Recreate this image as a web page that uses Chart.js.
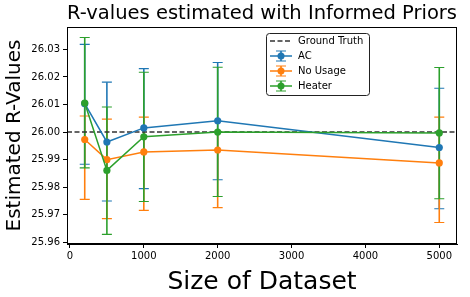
<!DOCTYPE html>
<html>
<head>
<meta charset="utf-8">
<script src="https://cdn.jsdelivr.net/npm/chart.js@4/dist/chart.umd.min.js"></script>
<style>
  html, body { margin: 0; padding: 0; background: #fff; }
  #wrap { width: 470px; height: 297px; }
</style>
</head>
<body>
<div id="wrap"><canvas id="grafico" width="470" height="297"></canvas></div>
<script>
// tamaños del dataset (eje x)
const sizes = [200, 500, 1000, 2000, 5000];
const groundTruth = 26.0;

// medias y limites de los intervalos
const acMean = [26.0103, 25.9964, 26.0015, 26.0041, 25.9944];
const acLow = [25.9883, 25.9750, 25.9795, 25.9827, 25.9722];
const acHigh = [26.0318, 26.0181, 26.0230, 26.0252, 26.0159];

const noUsageMean = [25.9973, 25.9900, 25.9928, 25.9935, 25.9888];
const noUsageLow = [25.9756, 25.9686, 25.9716, 25.9726, 25.9672];
const noUsageHigh = [26.0058, 26.0047, 26.0054, 26.0000, 26.0054];

const heaterMean = [26.0105, 25.9861, 25.9983, 26.0000, 25.9997];
const heaterLow = [25.9870, 25.9629, 25.9748, 25.9766, 25.9758];
const heaterHigh = [26.0343, 26.0091, 26.0217, 26.0235, 26.0234];

const xTicks = [0, 1000, 2000, 3000, 4000, 5000];
const yTicks = [25.96, 25.97, 25.98, 25.99, 26.00, 26.01, 26.02, 26.03];
const xMin = -40, xMax = 5240;
const yMin = 25.9594, yMax = 26.0381;

const series = [
  { label: "AC", mean: acMean, low: acLow, high: acHigh, color: "#1f77b4" },
  { label: "No Usage", mean: noUsageMean, low: noUsageLow, high: noUsageHigh, color: "#ff7f0e" },
  { label: "Heater", mean: heaterMean, low: heaterLow, high: heaterHigh, color: "#2ca02c" },
];

const FONT = "'DejaVu Sans', sans-serif";

// barras de error, debajo de las lineas
const errorBars = {
  id: "errorBars",
  beforeDatasetsDraw(chart) {
    const { ctx, chartArea, scales: { x, y } } = chart;
    ctx.save();
    ctx.beginPath();
    ctx.rect(chartArea.left, chartArea.top, chartArea.width, chartArea.height);
    ctx.clip();
    for (const s of series) {
      ctx.strokeStyle = s.color;
      for (let i = 0; i < sizes.length; i++) {
        const px = x.getPixelForValue(sizes[i]);
        const yl = y.getPixelForValue(s.low[i]);
        const yh = y.getPixelForValue(s.high[i]);
        ctx.lineWidth = 1.6;
        ctx.beginPath();
        ctx.moveTo(px, yl);
        ctx.lineTo(px, yh);
        ctx.stroke();
        ctx.lineWidth = 1.1;
        ctx.beginPath();
        ctx.moveTo(px - 5, yl);
        ctx.lineTo(px + 5, yl);
        ctx.moveTo(px - 5, yh);
        ctx.lineTo(px + 5, yh);
        ctx.stroke();
      }
    }
    ctx.restore();
  },
  afterDatasetsDraw(chart) {
    // marco completo (spines)
    const { ctx, chartArea: a } = chart;
    ctx.save();
    ctx.strokeStyle = "#000";
    ctx.lineWidth = 1;
    ctx.strokeRect(Math.round(a.left) + 0.5, Math.round(a.top) + 0.5,
      Math.round(a.width) - 1, Math.round(a.height) - 1);
    ctx.restore();
  },
  afterDraw(chart) {
    // leyenda dentro del area, como en matplotlib
    const { ctx } = chart;
    const bx = 266, by = 33, bw = 103, bh = 62;
    ctx.save();
    ctx.fillStyle = "rgba(255,255,255,0.8)";
    ctx.strokeStyle = "#222";
    ctx.lineWidth = 1;
    ctx.beginPath();
    ctx.roundRect(bx + 0.5, by + 0.5, bw, bh, 3);
    ctx.fill();
    ctx.stroke();

    ctx.font = "10px " + FONT;
    ctx.textBaseline = "middle";
    ctx.fillStyle = "#000";
    const hx0 = 270, hx1 = 292, tx = 298;
    let ry = 41;
    ctx.strokeStyle = "#333";
    ctx.lineWidth = 1.6;
    ctx.setLineDash([5, 2.5]);
    ctx.beginPath();
    ctx.moveTo(hx0, ry);
    ctx.lineTo(hx1, ry);
    ctx.stroke();
    ctx.setLineDash([]);
    ctx.fillText("Ground Truth", tx, ry);

    for (const s of series) {
      ry += 15;
      const cx = (hx0 + hx1) / 2;
      ctx.strokeStyle = s.color;
      ctx.lineWidth = 1.6;
      ctx.beginPath();
      ctx.moveTo(hx0, ry);
      ctx.lineTo(hx1, ry);
      ctx.moveTo(cx, ry - 5);
      ctx.lineTo(cx, ry + 5);
      ctx.stroke();
      ctx.lineWidth = 1.1;
      ctx.beginPath();
      ctx.moveTo(cx - 5, ry - 5);
      ctx.lineTo(cx + 5, ry - 5);
      ctx.moveTo(cx - 5, ry + 5);
      ctx.lineTo(cx + 5, ry + 5);
      ctx.stroke();
      ctx.fillStyle = s.color;
      ctx.beginPath();
      ctx.arc(cx, ry, 3.5, 0, Math.PI * 2);
      ctx.fill();
      ctx.fillStyle = "#000";
      ctx.fillText(s.label, tx, ry);
    }
    ctx.restore();
  },
};

const datasets = series.map((s, k) => ({
  label: s.label,
  data: sizes.map((v, i) => ({ x: v, y: s.mean[i] })),
  borderColor: s.color,
  backgroundColor: s.color,
  borderWidth: 1.5,
  pointRadius: 3.6,
  pointBorderWidth: 0,
  tension: 0,
  order: 3 - k,
}));

datasets.push({
  label: "Ground Truth",
  data: [{ x: xMin, y: groundTruth }, { x: xMax, y: groundTruth }],
  borderColor: "#333",
  borderWidth: 1.6,
  borderDash: [5, 2.5],
  pointRadius: 0,
  order: 4,
});

const ctx = document.getElementById("grafico").getContext("2d");
new Chart(ctx, {
  type: "line",
  data: { datasets },
  plugins: [errorBars],
  options: {
    responsive: false,
    animation: false,
    layout: { padding: { left: 0, right: 13, top: 0, bottom: 0 } },
    plugins: {
      legend: { display: false },
      tooltip: { enabled: false },
      title: {
        display: true,
        text: "R-values estimated with Informed Priors",
        fullSize: false,
        color: "#000",
        font: { family: FONT, size: 20, weight: "normal" },
        padding: { top: 2, bottom: 1 },
      },
    },
    scales: {
      x: {
        type: "linear",
        min: xMin,
        max: xMax,
        afterFit: (s) => { s.height = 53; },
        afterBuildTicks: (s) => { s.ticks = xTicks.map((v) => ({ value: v })); },
        grid: { display: true, drawOnChartArea: false, drawTicks: true, tickLength: 4, color: "#000" },
        border: { display: true, color: "#000" },
        ticks: {
          color: "#000",
          padding: 2,
          maxRotation: 0,
          font: { family: FONT, size: 10 },
          callback: (v) => String(v),
        },
        title: {
          display: true,
          text: "Size of Dataset",
          color: "#000",
          font: { family: FONT, size: 25 },
          padding: { top: 6, bottom: 0 },
        },
      },
      y: {
        type: "linear",
        min: yMin,
        max: yMax,
        afterFit: (s) => { s.width = 67; },
        afterBuildTicks: (s) => { s.ticks = yTicks.map((v) => ({ value: v })); },
        grid: { display: true, drawOnChartArea: false, drawTicks: true, tickLength: 4, color: "#000" },
        border: { display: true, color: "#000" },
        ticks: {
          color: "#000",
          padding: 3,
          font: { family: FONT, size: 10 },
          callback: (v) => v.toFixed(2),
        },
        title: {
          display: true,
          text: "Estimated R-Values",
          color: "#000",
          font: { family: FONT, size: 20 },
          padding: { top: 3, bottom: 0 },
        },
      },
    },
  },
});
</script>
</body>
</html>
